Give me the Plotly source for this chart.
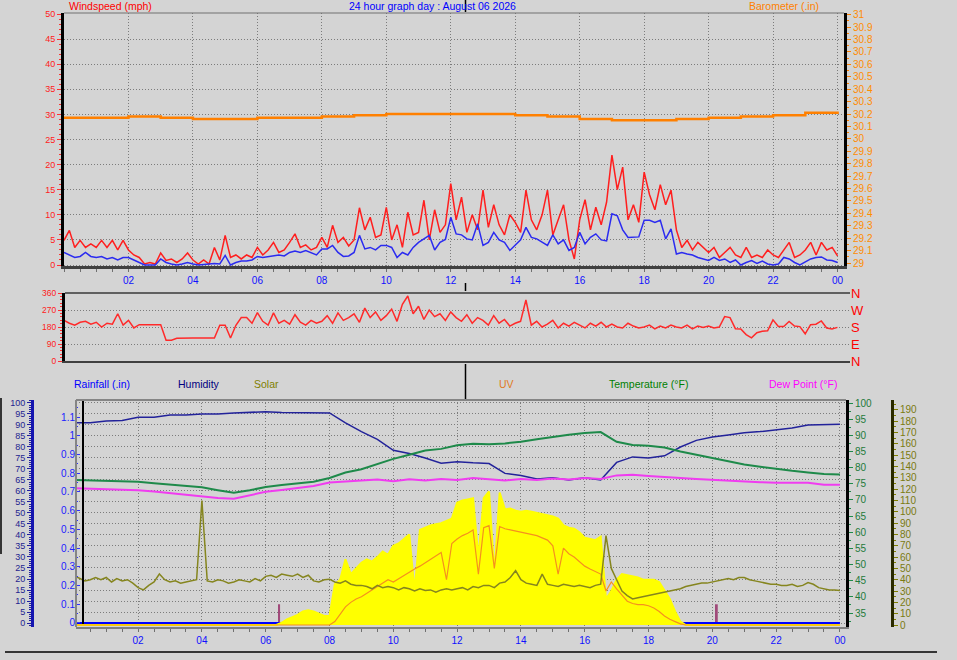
import plotly.graph_objects as go

W, H = 957, 660


def fx(p):
    return p / W


def fy(p):
    return 1 - p / H


FONT = "Liberation Sans, Arial, sans-serif"
BG = "#D4D4D4"
GRID = "#7C7C7C"
GDASH = "1px,2px"

# ---------------- data ----------------
hour_ticks = [2, 4, 6, 8, 10, 12, 14, 16, 18, 20, 22, 24]
hour_labels = ["02", "04", "06", "08", "10", "12", "14", "16", "18", "20", "22", "00"]

t10 = [i / 6 for i in range(145)]   # 10-minute samples 00:00 .. 24:00
t30 = [i / 2 for i in range(49)]    # 30-minute samples

gust_mph = [
    4.9, 6.9, 3.5, 4.9, 3.5, 4.2,
    3.5, 4.9, 3.5, 4.9, 3.0, 4.9,
    3.0, 2.0, 1.5, 0.2, 0.5, 0.2,
    2.4, 0.9, 1.2, 0.5, 1.2, 2.4,
    1.0, 0.2, 1.0, 0.2, 3.5, 1.0,
    5.9, 1.5, 2.0, 1.2, 2.0, 1.5,
    3.5, 2.0, 3.0, 4.5, 2.5, 3.0,
    4.5, 6.2, 3.5, 4.0, 3.0, 3.5,
    5.5, 3.5, 7.9, 4.5, 5.5, 3.8,
    5.0, 11.4, 7.0, 9.5, 5.5, 6.0,
    11.5, 5.0, 8.0, 3.5, 10.5, 6.0,
    6.5, 12.9, 5.0, 11.0, 6.5, 8.0,
    16.2, 9.0, 13.5, 6.5, 10.0, 7.0,
    14.9, 7.5, 12.0, 8.0, 6.0, 10.0,
    8.5, 6.5, 14.9, 9.0, 7.0, 10.0,
    14.9, 6.0, 9.0, 12.0, 5.0, 1.2,
    9.0, 13.0, 7.0, 11.5, 8.0, 12.5,
    21.9, 15.0, 19.5, 9.0, 12.0, 8.5,
    18.5, 14.0, 11.0, 16.0, 12.0, 14.9,
    7.0, 3.5, 4.9, 3.0, 4.5, 3.5,
    2.5, 3.5, 1.5, 2.5, 3.5, 2.0,
    1.5, 3.5, 1.5, 2.0, 1.5, 3.0,
    2.0, 1.5, 3.0, 4.5, 1.5, 2.0,
    3.0, 4.5, 2.0, 4.5, 3.0, 3.5,
    1.8,
]

avg_mph = [
    2.5, 2.0, 1.5, 1.7, 2.5, 1.7,
    1.5, 1.7, 1.2, 1.5, 1.0, 1.5,
    1.5, 1.0, 0.5, 0.0, 0.0, 0.0,
    1.2, 0.5, 0.2, 0.0, 0.2, 0.5,
    0.2, 0.0, 0.1, 0.2, 0.3, 0.2,
    1.9, 0.0, 0.5, 0.8, 0.8, 1.0,
    1.7, 1.5, 1.7, 1.9, 2.0, 1.8,
    2.5, 2.8, 2.5, 2.9, 2.5, 2.0,
    3.2, 3.2, 3.9, 2.5, 1.7, 1.8,
    2.5, 5.9, 3.2, 3.5, 3.0, 3.9,
    3.9, 3.5, 1.5, 2.5, 2.0, 3.5,
    4.5, 5.2, 5.9, 3.0, 4.5, 5.1,
    9.5, 6.2, 6.0, 5.2, 5.0, 8.2,
    3.9, 4.5, 6.5, 5.0, 4.5, 2.9,
    4.0, 5.0, 7.5, 5.5, 5.2, 4.5,
    3.9, 6.0, 4.2, 5.0, 2.9, 3.5,
    6.5, 4.2, 5.5, 6.2, 5.0, 4.8,
    10.2, 9.8, 7.0, 5.5, 5.5, 5.6,
    8.9, 8.9, 8.5, 8.9, 5.2, 7.2,
    2.2, 2.5, 2.2, 2.0, 1.5, 1.2,
    0.9, 1.5, 0.9, 1.2, 0.5, 1.0,
    0.0, 0.5, 0.9, 0.3, 0.8, 0.2,
    0.0, 0.2, 1.5, 1.2, 0.5, 0.0,
    0.6, 1.2, 1.5, 1.6, 1.0, 0.9,
    0.5,
]

baro_hours = list(range(25))
baro_in = [30.17, 30.17, 30.18, 30.17, 30.16, 30.16, 30.17, 30.17, 30.18, 30.19,
           30.20, 30.20, 30.20, 30.20, 30.19, 30.18, 30.16, 30.15, 30.15, 30.16,
           30.17, 30.18, 30.19, 30.21, 30.22]

wind_dir_deg = [
    215, 200, 190, 205, 210, 195,
    205, 180, 200, 195, 250, 190,
    215, 175, 192, 192, 192, 192,
    192, 110, 110, 120, 122, 122,
    122, 122, 122, 122, 122, 189,
    189, 122, 189, 230, 230, 200,
    256, 210, 190, 255, 200, 215,
    195, 245, 205, 190, 215, 200,
    210, 240, 200, 255, 215, 230,
    250, 205, 280, 230, 260, 215,
    240, 275, 210, 300, 344, 250,
    290, 220, 270, 235, 250, 215,
    260, 230, 210, 245, 200, 230,
    215, 190, 240, 200, 220, 185,
    200, 210, 323, 190, 210, 180,
    195, 215, 175, 200, 185, 205,
    190, 175, 200, 185, 205, 180,
    195, 180, 175, 200, 185, 175,
    180, 190, 170, 185, 175, 190,
    180, 175, 190, 170, 185, 178,
    185, 175, 180, 235, 230, 171,
    170, 140, 123, 150, 158, 160,
    218, 183, 183, 209, 185, 182,
    144, 192, 195, 212, 175, 170,
    178,
]
compass_vals = [0, 90, 180, 270, 360]
compass_text = ["N", "E", "S", "W", "N"]

humidity_pct = [91.0, 91.0, 91.8, 92.0, 93.5, 93.5, 94.5, 94.5, 95.0, 95.0,
                95.5, 95.7, 96.0, 95.7, 95.7, 95.7, 95.5, 91.0, 87.0, 83.5,
                78.5, 77.0, 75.0, 72.6, 73.3, 72.8, 72.5, 68.0, 67.0, 65.5,
                66.0, 65.0, 66.0, 65.0, 73.0, 75.5, 75.0, 76.0, 80.0, 83.0,
                84.5, 85.5, 86.5, 87.0, 87.7, 88.6, 90.0, 90.3, 90.3]

temp_f = [76.2, 76.1, 76.0, 75.8, 75.6, 75.2, 74.7, 74.3, 73.9, 73.0,
          72.2, 73.0, 74.0, 74.6, 75.1, 75.6, 76.8, 78.5, 79.5, 81.2,
          82.7, 84.0, 85.3, 85.8, 86.9, 87.4, 87.2, 87.5, 88.0, 88.8,
          89.6, 90.2, 90.7, 91.0, 88.0, 87.0, 86.8, 86.2, 85.0, 84.0,
          82.8, 81.8, 81.0, 80.3, 79.6, 79.0, 78.5, 78.0, 77.9]

dew_f = [73.6, 73.5, 73.4, 73.2, 73.0, 72.6, 72.1, 71.5, 71.0, 70.6,
         70.4, 71.5, 72.5, 73.1, 73.7, 74.3, 75.4, 75.8, 76.0, 76.3,
         75.8, 76.4, 76.0, 76.5, 76.2, 76.8, 76.4, 76.0, 76.5, 76.2,
         76.6, 76.3, 76.8, 76.5, 77.6, 77.8, 77.4, 77.2, 76.8, 76.5,
         76.2, 76.0, 75.8, 75.5, 75.3, 75.3, 75.3, 74.7, 74.7]

solar_line = [
    43.5, 41, 39, 40, 42, 40,
    42, 38, 41, 39, 40, 37,
    33, 31, 35, 38, 45, 40,
    38, 39, 37, 38, 39, 40,
    110, 39, 38, 40, 39, 37,
    38, 40, 39, 38, 41, 39,
    43, 44, 42, 45, 44, 43,
    45, 42, 44, 39, 38, 40,
    40.5, 38, 37, 39, 36, 35,
    35, 34, 32, 35, 33, 34,
    33, 31, 33, 32, 30, 32,
    30.5, 31, 29, 31, 32, 31,
    32, 33, 31, 34, 33, 35,
    35, 33, 37, 38, 42, 48,
    40, 37, 36, 35, 45, 36,
    35, 34, 36, 35, 34, 35,
    34, 33, 35, 36, 79, 50,
    40, 30, 26, 23, 24, 25,
    26, 27, 28, 29, 30, 31,
    32, 34, 35, 36, 37, 37,
    38, 39, 40, 41, 40, 42,
    42, 40, 39, 38, 37, 36,
    36, 35, 35, 36, 34, 35,
    37.5, 36, 33, 32, 31, 31,
    30.5,
]

solar_fill = [
    0, 0, 0, 0, 0, 0,
    0, 0, 0, 0, 0, 0,
    0, 0, 0, 0, 0, 0,
    0, 0, 0, 0, 0, 0,
    0, 0, 0, 0, 0, 0,
    0, 0, 0, 0, 0, 0,
    0, 0, 0, 2, 5, 7,
    9, 12, 13, 12, 10, 8,
    8, 36, 40, 58, 45, 50,
    55, 58, 56, 60, 65, 62,
    70, 72, 76, 80, 30, 84,
    86, 88, 89, 90, 92, 94,
    108, 110, 111, 112, 60, 112,
    118, 45, 117, 102, 103, 101,
    100, 101, 100, 99, 98, 97,
    96, 94, 88, 86, 85, 82,
    77, 76, 75, 78, 23, 30,
    40, 45, 44, 43, 42, 40,
    40, 40, 38, 30, 23, 12,
    3, 0, 0, 0, 0, 0,
    0, 0, 0, 0, 0, 0,
    0, 0, 0, 0, 0, 0,
    0, 0, 0, 0, 0, 0,
    0, 0, 0, 0, 0, 0,
    0,
]

uv_line = [
    0, 0, 0, 0, 0, 0,
    0, 0, 0, 0, 0, 0,
    0, 0, 0, 0, 0, 0,
    0, 0, 0, 0, 0, 0,
    0, 0, 0, 0, 0, 0,
    0, 0, 0, 0, 0, 0,
    0, 0, 0, 0, 0, 0,
    0, 0, 0, 0, 0, 0,
    0, 3, 10, 16, 20, 23,
    25, 28, 31, 34, 37, 40,
    38, 41, 44, 47, 49.5, 52,
    55, 58, 61, 64, 40, 72,
    76, 79, 81, 84, 45, 86,
    87.8, 50, 87, 85, 84, 83,
    82, 81, 80, 79, 77, 75,
    70, 45, 68, 63, 60, 56,
    52, 49.5, 47, 45, 30, 38,
    32, 26, 21, 19, 18, 18,
    17, 15, 12, 8, 5, 3,
    1, 0, 0, 0, 0, 0,
    0, 0, 0, 0, 0, 0,
    0, 0, 0, 0, 0, 0,
    0, 0, 0, 0, 0, 0,
    0, 0, 0, 0, 0, 0,
    0,
]

rain_hours = [0, 24]
rain_in = [0.0, 0.0]
rain_spike_hours = [6.42, 20.14]
rain_spike_in = [0.10, 0.10]

# ---------------- figure ----------------
fig = go.Figure()

# top panel
fig.add_trace(go.Scatter(x=baro_hours, y=baro_in, xaxis="x", yaxis="y2", mode="lines",
                         line=dict(color="#FF8000", width=2.5, shape="hv")))
fig.add_trace(go.Scatter(x=t10, y=gust_mph, xaxis="x", yaxis="y", mode="lines",
                         line=dict(color="#FF1E1E", width=1.5)))
fig.add_trace(go.Scatter(x=t10, y=avg_mph, xaxis="x", yaxis="y", mode="lines",
                         line=dict(color="#2B2BF0", width=1.5)))

# middle panel
fig.add_trace(go.Scatter(x=t10, y=wind_dir_deg, xaxis="x2", yaxis="y3", mode="lines",
                         line=dict(color="#FF2A2A", width=1.5)))
# same series on the compass axis (transparent) so that the N/E/S/W axis is drawn
fig.add_trace(go.Scatter(x=t10, y=wind_dir_deg, xaxis="x2", yaxis="y4", mode="lines",
                         line=dict(color="rgba(0,0,0,0)", width=0), hoverinfo="skip"))

# bottom panel
fig.add_trace(go.Scatter(x=rain_hours, y=rain_in, xaxis="x3", yaxis="y5", mode="lines",
                         line=dict(color="#0000FF", width=2)))
fig.add_trace(go.Bar(x=rain_spike_hours, y=rain_spike_in, xaxis="x3", yaxis="y5",
                     width=0.06, marker=dict(color="#A04A7A", line=dict(width=0))))
fig.add_trace(go.Scatter(x=t30, y=humidity_pct, xaxis="x3", yaxis="y6", mode="lines",
                         line=dict(color="#22229A", width=1.5)))
fig.add_trace(go.Scatter(x=t30, y=temp_f, xaxis="x3", yaxis="y7", mode="lines",
                         line=dict(color="#1E8A4A", width=2)))
fig.add_trace(go.Scatter(x=t30, y=dew_f, xaxis="x3", yaxis="y7", mode="lines",
                         line=dict(color="#F03CF0", width=2)))
fig.add_trace(go.Scatter(x=t10, y=solar_fill, xaxis="x3", yaxis="y8", mode="lines",
                         fill="tozeroy", fillcolor="#FFFF00",
                         line=dict(color="#FFFF00", width=2)))
fig.add_trace(go.Scatter(x=t10, y=uv_line, xaxis="x3", yaxis="y8", mode="lines",
                         line=dict(color="#F5901E", width=1.2)))
fig.add_trace(go.Scatter(x=t10, y=solar_line, xaxis="x3", yaxis="y8", mode="lines",
                         line=dict(color="#85851E", width=1.5)))


def tf(color, size):
    return dict(family=FONT, color=color, size=size)


def minor(dtick, color, ticks="outside", ln=2):
    return dict(dtick=dtick, ticklen=ln, tickcolor=color, ticks=ticks, showgrid=False)


xcommon = dict(tickvals=hour_ticks, ticktext=hour_labels, ticks="outside", ticklen=3,
               tickcolor="#707070", showgrid=True, gridcolor=GRID, griddash=GDASH,
               gridwidth=1, zeroline=False, automargin=False,
               minor=minor(0.5, "#707070", ln=3))

layout = dict(
    width=W, height=H, margin=dict(l=0, r=0, t=0, b=0, autoexpand=False),
    paper_bgcolor=BG, plot_bgcolor=BG, showlegend=False, barmode="overlay",
    xaxis=dict(domain=[fx(64), fx(844)], range=[0, 24.2], anchor="y",
               showline=True, linecolor="#404040", linewidth=3,
               tickfont=tf("#1010FF", 10), **xcommon),
    yaxis=dict(domain=[fy(266), fy(13)], range=[-0.2, 50.2], anchor="x",
               dtick=5, tick0=0, ticks="outside", ticklen=4, tickcolor="#FF3030",
               tickfont=tf("#FF2020", 9), showline=True, linecolor="#000000", linewidth=3,
               showgrid=True, gridcolor=GRID, griddash=GDASH, zeroline=False,
               automargin=False, minor=minor(1, "#FF3030")),
    yaxis2=dict(overlaying="y", side="right", anchor="x", range=[28.976, 31.014],
                dtick=0.1, tick0=29, ticks="outside", ticklen=4, tickcolor="#FF8000",
                tickfont=tf("#FF8C00", 10), showline=True, linecolor="#000000",
                linewidth=3, showgrid=False, zeroline=False, automargin=False,
                minor=minor(0.05, "#FF8000")),
    xaxis2=dict(domain=[fx(65), fx(850)], range=[0.03, 24.39], anchor="y3",
                showticklabels=False, ticks="", showgrid=False, zeroline=False,
                showline=True, linecolor="#404040", linewidth=2, automargin=False),
    yaxis3=dict(domain=[fy(361), fy(293)], range=[0, 360], anchor="x2",
                tickvals=compass_vals, ticks="outside", ticklen=4, tickcolor="#FF3030",
                tickfont=tf("#FF2020", 8.5), showline=True, linecolor="#000000",
                linewidth=3, showgrid=True, gridcolor=GRID, griddash=GDASH,
                zeroline=False, automargin=False, minor=minor(18, "#FF3030")),
    yaxis4=dict(overlaying="y3", side="right", anchor="x2", range=[0, 360],
                tickvals=compass_vals, ticktext=compass_text, ticks="",
                tickfont=tf("#FF0000", 13), showline=False, showgrid=False,
                zeroline=False, automargin=False),
    xaxis3=dict(domain=[fx(76), fx(846)], range=[0.053, 24.19], anchor="y5",
                showline=True, linecolor="#808080", linewidth=2,
                tickfont=tf("#1010FF", 10), **xcommon),
    yaxis5=dict(domain=[fy(627), fy(400)], range=[-0.0214, 1.1908], anchor="x3",
                dtick=0.1, tick0=0, ticks="inside", ticklen=4, tickcolor="#3030FF",
                tickfont=tf("#2020FF", 10), showline=False, showgrid=False,
                zeroline=False, automargin=False,
                minor=minor(0.05, "#3030FF", ticks="inside")),
    yaxis6=dict(overlaying="y5", side="left", anchor="free", position=fx(32),
                range=[-1.82, 101.36], dtick=5, tick0=0, ticks="outside", ticklen=4,
                tickcolor="#2020A0", tickfont=tf("#23238F", 9), showline=True,
                linecolor="#1515B0", linewidth=3, showgrid=True, gridcolor=GRID,
                griddash=GDASH, zeroline=False, automargin=False,
                minor=minor(1, "#2020A0")),
    yaxis7=dict(overlaying="y5", side="right", anchor="x3", range=[30.67, 100.93],
                tickvals=[35, 40, 45, 50, 55, 60, 65, 70, 75, 80, 85, 90, 95, 100],
                ticks="outside", ticklen=4, tickcolor="#1E8A4A",
                tickfont=tf("#1E7A3A", 10), showline=True, linecolor="#000000",
                linewidth=3, showgrid=False, zeroline=False, automargin=False,
                minor=minor(2.5, "#1E8A4A")),
    yaxis8=dict(overlaying="y5", side="right", anchor="free", position=fx(892),
                range=[-1.77, 198.8], dtick=10, tick0=0, ticks="outside", ticklen=4,
                tickcolor="#808000", tickfont=tf("#7A7A10", 10), showline=True,
                linecolor="#2A2A00", linewidth=3, showgrid=False, zeroline=False,
                automargin=False, minor=minor(5, "#808000")),
)
fig.update_layout(**layout)


def pline(x0, y0, x1, y1, color, width):
    return dict(type="line", xref="paper", yref="paper", x0=fx(x0), y0=fy(y0),
                x1=fx(x1), y1=fy(y1), line=dict(color=color, width=width))


shapes = [
    pline(64, 13, 844, 13, "#707070", 1),
    pline(65, 293, 850, 293, "#606060", 2),
    pline(76, 400, 846, 400, "#858585", 2),
    pline(76, 400, 76, 627, "#858585", 2),
    pline(83, 401, 83, 624, "#000000", 2),
    pline(465.5, 0, 465.5, 12, "#000000", 1.5),
    pline(465.5, 283, 465.5, 291, "#000000", 1.5),
    pline(465.5, 364, 465.5, 399, "#000000", 1.5),
    pline(5, 652, 937, 652, "#000000", 1.5),
    pline(1, 398, 1, 554, "#000000", 1.5),
]
fig.update_layout(shapes=shapes)


def label(text, x, y, color):
    return dict(text=text, x=fx(x), y=fy(y), xref="paper", yref="paper",
                xanchor="left", yanchor="middle", showarrow=False,
                font=dict(family=FONT, size=10.5, color=color))


annotations = [
    label("Windspeed (mph)", 67, 6, "#FF0000"),
    label("24 hour graph day : August 06 2026", 347, 6, "#0000FF"),
    label("Barometer (.in)", 747, 6, "#FF8000"),
    label("Rainfall (.in)", 72, 384, "#0000FF"),
    label("Humidity", 176, 384, "#000080"),
    label("Solar", 252, 384, "#808000"),
    label("UV", 497, 384, "#E07A1E"),
    label("Temperature (°F)", 607, 384, "#008000"),
    label("Dew Point (°F)", 767, 384, "#FF00FF"),
]
fig.update_layout(annotations=annotations)

fig.write_html("out.html",
               config=dict(displayModeBar=False),
               post_script="document.body.style.margin='0';"
                           "document.body.style.background='#D4D4D4';")
